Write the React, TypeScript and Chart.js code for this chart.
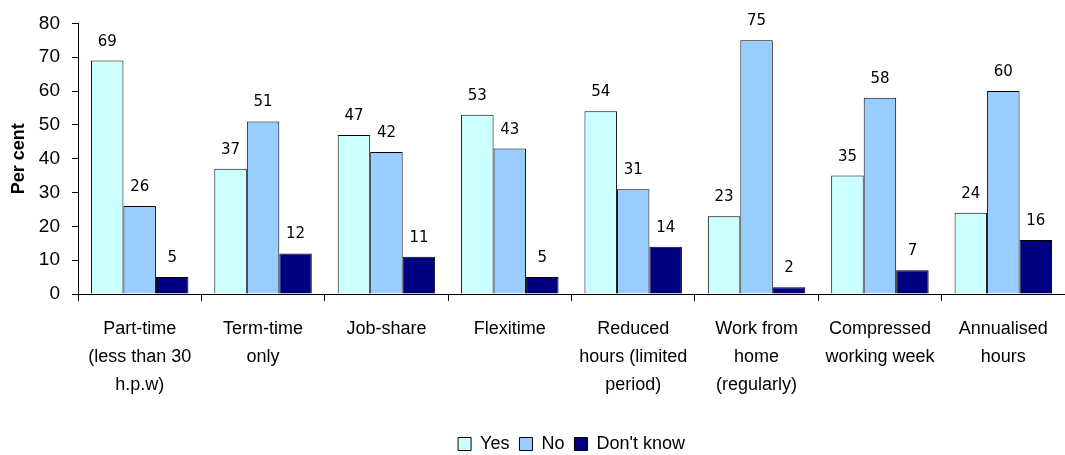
import React, { useEffect, useRef } from "react";
import { Chart, registerables } from "chart.js";

Chart.register(...registerables);

const categories: string[][] = [
  ["Part-time", "(less than 30", "h.p.w)"],
  ["Term-time", "only"],
  ["Job-share"],
  ["Flexitime"],
  ["Reduced", "hours (limited", "period)"],
  ["Work from", "home", "(regularly)"],
  ["Compressed", "working week"],
  ["Annualised", "hours"],
];

const yesValues = [69, 37, 47, 53, 54, 23, 35, 24];
const noValues = [26, 51, 42, 43, 31, 75, 58, 60];
const dontKnowValues = [5, 12, 11, 5, 14, 2, 7, 16];

const yTicks = [0, 10, 20, 30, 40, 50, 60, 70, 80];

const valueLabelPlugin = {
  id: "valueLabels",
  afterDatasetsDraw(chart: any) {
    const ctx = chart.ctx;
    ctx.save();
    ctx.font = "15px 'DejaVu Sans'";
    ctx.fillStyle = "#000";
    ctx.textAlign = "center";
    ctx.textBaseline = "alphabetic";
    chart.data.datasets.forEach((ds: any, i: number) => {
      const meta = chart.getDatasetMeta(i);
      meta.data.forEach((el: any, j: number) => {
        ctx.fillText(String(ds.data[j]), el.x, el.y - 15);
      });
    });
    ctx.restore();
  },
};

export default function App() {
  const ref = useRef<HTMLCanvasElement | null>(null);
  useEffect(() => {
    if (!ref.current) return;
    const chart = new Chart(ref.current, {
      type: "bar",
      data: {
        labels: categories,
        datasets: [
          { label: "Yes", data: yesValues, backgroundColor: "#CCFFFF", borderColor: "#000", borderWidth: 1 },
          { label: "No", data: noValues, backgroundColor: "#99CCFF", borderColor: "#000", borderWidth: 1 },
          { label: "Don't know", data: dontKnowValues, backgroundColor: "#000080", borderColor: "#000", borderWidth: 1 },
        ],
      },
      options: {
        responsive: false,
        animation: false,
        layout: { padding: { top: 21, right: 0, left: 0, bottom: -8 } },
        datasets: { bar: { categoryPercentage: 0.79, barPercentage: 1 } },
        plugins: {
          tooltip: { enabled: false },
          legend: {
            position: "bottom",
            fullSize: false,
            labels: {
              boxWidth: 13,
              boxHeight: 13,
              padding: 10,
              color: "#000",
              font: { family: "'Liberation Sans'", size: 18 },
            },
          },
        },
        scales: {
          x: {
            grid: { display: true, drawOnChartArea: false, offset: true, tickLength: 7, color: "#000" },
            border: { color: "#000" },
            ticks: {
              color: "#000",
              padding: 14,
              maxRotation: 0,
              autoSkip: false,
              font: { family: "'Liberation Sans'", size: 18, lineHeight: 1.55 },
            },
            afterFit: (scale: any) => {
              scale.height = 131;
            },
          },
          y: {
            min: 0,
            max: 80,
            afterBuildTicks: (scale: any) => {
              scale.ticks = yTicks.map((v) => ({ value: v }));
            },
            grid: { display: true, drawOnChartArea: false, tickLength: 6, color: "#000" },
            border: { color: "#000" },
            ticks: {
              color: "#000",
              padding: 12,
              font: { family: "'Liberation Sans'", size: 19 },
            },
            title: {
              display: true,
              text: "Per cent",
              color: "#000",
              padding: { top: 8, bottom: 0 },
              font: { family: "'Liberation Sans'", size: 18, weight: "bold" },
            },
            afterFit: (scale: any) => {
              scale.width = 78;
            },
          },
        },
      },
      plugins: [valueLabelPlugin],
    });
    return () => chart.destroy();
  }, []);
  return (
    <div style={{ position: "absolute", left: 0, top: 0, width: 1065, height: 455, background: "#fff" }}>
      <canvas ref={ref} width={1065} height={455} style={{ display: "block" }} />
    </div>
  );
}
